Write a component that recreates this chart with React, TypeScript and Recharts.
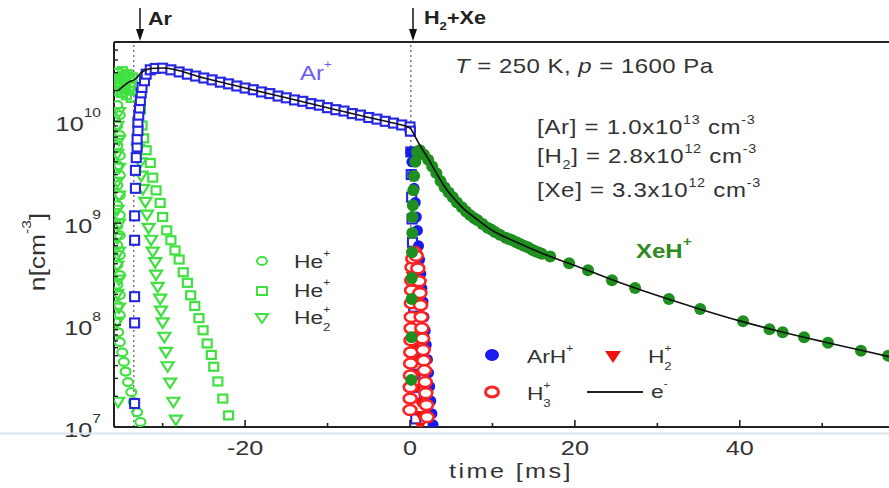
import React from "react";
import { ReferenceLine, Scatter, ScatterChart, XAxis, YAxis } from "recharts";

// ---- data (t in ms, n in cm^-3) ----
const arT = [-33.4, -33.4, -33.4, -33.4, -33.4, -33.3, -33.3, -33.2, -33.1, -33.1, -33.0, -33.0, -32.9, -32.8, -32.7, -32.6, -32.5, -32.2, -32.0, -31.5, -30.9,
  -30, -29, -28, -27, -26, -25, -24, -23, -22, -21, -20, -19, -18, -17, -16, -15, -14, -13, -12, -11, -10, -9, -8, -7, -6, -5, -4, -3, -2, -1, 0,
  0.05, 0.1, 0.15, 0.2, 0.25, 0.3, 0.35, 0.4, 0.45, 0.5, 0.55, 0.6, 0.65, 0.7];
const arN = [1.7e7, 1.05e8, 1.9e8, 6.8e8, 1.18e9, 2.2e9, 3.3e9, 4.4e9, 5.6e9, 6.7e9, 8.1e9, 9.8e9, 1.15e10, 1.35e10, 1.6e10, 1.9e10, 2.15e10, 2.5e10, 2.9e10, 3.2e10, 3.3e10,
  3.32e10, 3.2e10, 3.05e10, 2.9e10, 2.78e10, 2.66e10, 2.55e10, 2.42e10, 2.33e10, 2.22e10, 2.12e10, 2.04e10, 1.94e10, 1.87e10, 1.77e10, 1.7e10, 1.62e10, 1.57e10, 1.49e10, 1.44e10, 1.36e10, 1.3e10, 1.26e10, 1.19e10, 1.15e10, 1.09e10, 1.05e10, 1.0e10, 9.6e9, 9.2e9, 8.8e9,
  8e9, 5e9, 3e9, 1.8e9, 1.1e9, 6.5e8, 4e8, 2.4e8, 1.5e8, 9e7, 5.5e7, 3.3e7, 2e7, 1.2e7];

// He+ (circles)
const heAT = [-35.5, -35.2, -35.5, -35.2, -35.5, -35.2, -35.5, -35.2, -35.5, -35.2, -35.5, -35.2, -35.5, -35.2, -35.5, -35.2, -35.5, -35.2, -35.5, -35.2, -35.5, -35.2,
  -35.7, -35.4, -35.2, -34.9, -34.7, -34.5, -34.2, -33.8, -33.5, -33.1, -32.7];
const heAN = [1.44e10, 1.15e10, 9.1e9, 7.3e9, 5.8e9, 4.6e9, 3.7e9, 2.96e9, 2.36e9, 1.88e9, 1.5e9, 1.2e9, 9.5e8, 7.6e8, 6.1e8, 4.85e8, 3.9e8, 3.1e8, 2.5e8, 1.97e8, 1.57e8, 1.25e8,
  1.07e8, 8.5e7, 6.8e7, 5.4e7, 4.35e7, 3.5e7, 2.76e7, 2.2e7, 1.76e7, 1.4e7, 1.12e7];

// He+ (squares)
const heBT = [-35.8, -35.5, -35.2, -34.9, -34.6, -34.3, -34.0, -33.7, -35.6, -35.3, -35.0, -34.7, -34.4, -34.1, -33.8, -35.7, -35.1, -34.5, -33.9,
  -32.7, -32.5, -32.3, -32.0, -31.5, -31.2, -30.8, -30.3, -30.0, -29.5, -29.0, -28.5, -28.0, -27.5, -27.0, -26.6, -26.1, -25.6, -25.1, -24.6, -24.1, -23.8, -23.3, -22.7, -22.0];
const heBN = [2.6e10, 3.0e10, 2.7e10, 3.1e10, 2.8e10, 2.9e10, 2.6e10, 2.7e10, 2.0e10, 2.2e10, 1.9e10, 2.1e10, 1.8e10, 2.0e10, 1.7e10, 2.35e10, 2.4e10, 2.3e10, 2.2e10,
  1.3e10, 9.1e9, 6.8e9, 5.2e9, 3.9e9, 2.8e9, 2.1e9, 1.58e9, 1.15e9, 8.5e8, 6.8e8, 5.4e8, 4.4e8, 3.3e8, 2.6e8, 1.96e8, 1.54e8, 1.17e8, 8.9e7, 6.6e7, 5.1e7, 3.9e7, 2.8e7, 1.9e7, 1.3e7];

// He2+ (triangles)
const heCT = [-35.3, -35.5, -35.3, -35.5, -35.3, -35.5, -35.3, -35.5, -35.3, -35.5, -35.3, -35.5, -35.3, -35.5, -35.3, -35.5, -35.4,
  -33.0, -32.7, -32.6, -32.4, -32.1, -31.9, -31.7, -31.4, -31.2, -30.9, -30.8, -30.6, -30.3, -30.2, -30.0, -29.8, -29.6, -29.4, -29.1, -28.7, -28.4];
const heCN = [1.22e10, 8.9e9, 6.5e9, 4.75e9, 3.46e9, 2.52e9, 1.84e9, 1.34e9, 9.8e8, 7.1e8, 5.2e8, 3.8e8, 2.76e8, 2.0e8, 1.47e8, 1.07e8, 1.75e7,
  5.3e9, 3.9e9, 2.9e9, 2.15e9, 1.6e9, 1.2e9, 8.9e8, 6.8e8, 5.2e8, 4.1e8, 3.1e8, 2.35e8, 1.8e8, 1.37e8, 1.05e8, 7.6e7, 5.4e7, 3.9e7, 2.7e7, 1.75e7, 1.17e7];

// XeH+
const xeT = [0.15, 0.18, 0.2, 0.22, 0.25, 0.28, 0.3, 0.35, 0.4, 0.5, 0.65, 0.85,
  1.2, 1.7, 2.2, 2.7, 3.2, 3.7, 4.2, 4.7, 5.2, 5.7, 6.3, 6.8, 7.3, 7.8, 8.2, 8.8, 9.4, 9.9, 10.3, 10.9, 11.6, 12.0, 12.4, 12.9, 13.3, 13.8, 14.3, 14.8, 15.2, 15.6, 16.0, 17.0,
  19.3, 21.6, 24.5, 27.3, 31.4, 35.2, 40.4, 43.6, 45.2, 47.8, 50.7, 54.7, 58.0];
const xeN = [2.9e7, 7.6e7, 1.8e8, 2.9e8, 5.2e8, 8e8, 1.15e9, 1.5e9, 2.1e9, 2.9e9, 4e9, 5e9,
  5.2e9, 4.7e9, 4.2e9, 3.6e9, 3.1e9, 2.6e9, 2.25e9, 2.0e9, 1.8e9, 1.6e9, 1.43e9, 1.3e9, 1.2e9, 1.12e9, 1.07e9, 9.8e8, 9.0e8, 8.6e8, 8.2e8, 7.7e8, 7.2e8, 7.0e8, 6.8e8, 6.5e8, 6.3e8, 6.0e8, 5.8e8, 5.5e8, 5.3e8, 5.15e8, 5.0e8, 4.7e8,
  4.05e8, 3.46e8, 2.76e8, 2.31e8, 1.8e8, 1.44e8, 1.09e8, 9.1e7, 8.5e7, 7.6e7, 6.7e7, 5.6e7, 5.0e7];

// ArH+
const ahT = [0.1, 0.23, 0.37, 0.5, 0.64, 0.77, 0.9, 1.04, 1.17, 1.31, 1.44, 1.58, 1.71, 1.85, 1.98, 2.12, 2.25, 2.39, 2.52, 2.66, 2.8];
const ahN = [5e9, 4e9, 3e9, 2.2e9, 1.6e9, 1.15e9, 8.5e8, 6e8, 4.4e8, 3.2e8, 2.3e8, 1.7e8, 1.2e8, 8.8e7, 6.4e7, 4.6e7, 3.4e7, 2.5e7, 1.8e7, 1.35e7, 1.05e7];

// H2+
const h2T = [0.05, 0.15, 0.25, 0.35, 0.45, 0.55, 0.65, 0.75, 0.85, 0.95, 1.05, 1.15, 1.25];
const h2N = [4e8, 3e8, 2.2e8, 1.6e8, 1.15e8, 8.5e7, 6.2e7, 4.5e7, 3.3e7, 2.4e7, 1.75e7, 1.3e7, 1e7];

// H3+
const h3T = [0.0, 0.02, 0.04, 0.06, 0.08, 0.1, 0.12, 0.14, 0.16, 0.18, 0.2, 0.22, 0.25,
  0.35, 0.55, 0.75, 0.95, 1.1,
  1.2, 1.28, 1.36, 1.44, 1.52, 1.6, 1.68, 1.76, 1.84, 1.92, 2.0, 2.08];
const h3N = [1.47e7, 1.9e7, 2.46e7, 3.2e7, 4.2e7, 5.4e7, 7.1e7, 9.3e7, 1.2e8, 1.64e8, 2.2e8, 2.75e8, 3.7e8,
  4.5e8, 5.2e8, 4.8e8, 3.6e8, 2.7e8,
  2.06e8, 1.57e8, 1.2e8, 9.3e7, 7.4e7, 5.7e7, 4.5e7, 3.6e7, 2.76e7, 2.15e7, 1.64e7, 1.25e7];

// electrons (line)
const elT = [-35.4, -34.8, -34.2, -33.3, -32.6, -31.4, -30, -25, -20, -15, -10, -5, -2, 0, 0.5, 1.0, 1.5, 2.2, 3.2, 4.2,
  5.2, 6.3, 8.2, 10.3, 12.4, 14.3, 17, 20, 25, 30, 35, 40, 45, 50, 55, 58.1];
const elN = [2.0e10, 2.2e10, 2.4e10, 2.6e10, 3.0e10, 3.3e10, 3.33e10, 2.66e10, 2.12e10, 1.7e10, 1.36e10, 1.09e10, 9.6e9, 8.6e9, 7.4e9, 6.2e9, 5.3e9, 4.3e9, 3.1e9, 2.28e9,
  1.8e9, 1.44e9, 1.08e9, 8.2e8, 6.8e8, 5.8e8, 4.7e8, 3.85e8, 2.7e8, 1.95e8, 1.45e8, 1.1e8, 8.6e7, 6.9e7, 5.6e7, 4.9e7];

const xTicks = [-30, -20, -10, 0, 10, 20, 30, 40, 50];
const xMajor = [-20, 0, 20, 40];
const yTicks = [1e7, 2e7, 3e7, 4e7, 5e7, 6e7, 7e7, 8e7, 9e7,
  1e8, 2e8, 3e8, 4e8, 5e8, 6e8, 7e8, 8e8, 9e8,
  1e9, 2e9, 3e9, 4e9, 5e9, 6e9, 7e9, 8e9, 9e9,
  1e10, 2e10, 3e10, 4e10, 5e10];
const yMajor = [1e7, 1e8, 1e9, 1e10];

const zip = (t: number[], n: number[]) => t.map((v, i) => ({ t: v, n: n[i] }));

const AX = "#222";
const TXT = "#333";
const FONT = '"Liberation Sans", Arial, sans-serif';
const HE = "#40e040";

function Txt({ x, y, size = 20, weight, fill = TXT, anchor = "start", ls, children }: any) {
  return (
    <g transform={`translate(${x} ${y}) scale(1.2 1)`}>
      <text x={0} y={0} fontSize={size} fontWeight={weight} fill={fill} textAnchor={anchor} letterSpacing={ls}>
        {children}
      </text>
    </g>
  );
}

function BottomTick({ x, y, payload }: any) {
  const v = payload.value as number;
  const major = xMajor.includes(v);
  return (
    <g>
      <line x1={x} x2={x} y1={y} y2={y - (major ? 7 : 4)} stroke={AX} strokeWidth={1.6} />
      {major && <Txt x={x} y={y + 28} size={21} anchor="middle">{String(v)}</Txt>}
    </g>
  );
}

function TopTick({ x, y, payload }: any) {
  const major = xMajor.includes(payload.value);
  return <line x1={x} x2={x} y1={y} y2={y + (major ? 7 : 4)} stroke={AX} strokeWidth={1.6} />;
}

function LeftTick({ x, y, payload }: any) {
  const v = payload.value as number;
  const major = yMajor.includes(v);
  const exp = Math.round(Math.log10(v));
  return (
    <g>
      <line x1={x} x2={x + (major ? 7 : 4)} y1={y} y2={y} stroke={AX} strokeWidth={1.4} />
      {major && (
        <Txt x={x - 13} y={y + 10} size={21} anchor="end">
          10<tspan dy={-14} fontSize={13}>{exp}</tspan>
        </Txt>
      )}
    </g>
  );
}

const arSquare = (p: any) =>
  <rect x={p.cx - 4.5} y={p.cy - 4.5} width={9} height={9} fill="#fff" stroke="#2626e2" strokeWidth={2.1} />;
const openCircle = (p: any) => <ellipse cx={p.cx} cy={p.cy} rx={5} ry={4} fill="none" stroke={HE} strokeWidth={2.2} />;
const heSquare = (p: any) => <rect x={p.cx - 4.5} y={p.cy - 4} width={9} height={8} fill="none" stroke={HE} strokeWidth={2.2} />;
const heTri = (p: any) => (
  <polygon points={`${p.cx - 6},${p.cy - 4.5} ${p.cx + 6},${p.cy - 4.5} ${p.cx},${p.cy + 5}`} fill="none" stroke={HE} strokeWidth={2.2} />
);
const dot = (fill: string, r: number) => (p: any) => <circle cx={p.cx} cy={p.cy} r={r} fill={fill} />;
const redTri = (p: any) => (
  <polygon points={`${p.cx - 5.5},${p.cy - 4.5} ${p.cx + 5.5},${p.cy - 4.5} ${p.cx},${p.cy + 5}`} fill="#ee1111" />
);
const redRing = (p: any) => <ellipse cx={p.cx} cy={p.cy} rx={6.5} ry={5} fill="#fff" stroke="#ff2222" strokeWidth={2.6} />;

function Arrow({ x }: { x: number }) {
  return (
    <g>
      <line x1={x} x2={x} y1={8} y2={31} stroke="#111" strokeWidth={1.5} />
      <polygon points={`${x - 4},${29} ${x + 4},${29} ${x},${41}`} fill="#111" />
    </g>
  );
}

export default function App() {
  return (
    <div style={{ position: "absolute", left: 0, top: 0, width: 889, height: 488, overflow: "hidden", background: "#fff", fontFamily: FONT }}>
      <ScatterChart width={900} height={488} margin={{ top: 12, right: 11, bottom: 1, left: 54 }}>
        <XAxis dataKey="t" type="number" domain={[-35.9, 58.1]} allowDataOverflow ticks={xTicks} interval={0}
          height={60} tickSize={0} tickMargin={0} tickLine={false} axisLine={{ stroke: AX, strokeWidth: 2 }}
          tick={(p: any) => <BottomTick {...p} />} />
        <XAxis xAxisId="top" orientation="top" type="number" domain={[-35.9, 58.1]} allowDataOverflow ticks={xTicks} interval={0}
          height={30} tickSize={0} tickMargin={0} tickLine={false} axisLine={{ stroke: AX, strokeWidth: 2 }}
          tick={(p: any) => <TopTick {...p} />} />
        <YAxis dataKey="n" type="number" scale="log" domain={[1e7, 6e10]} allowDataOverflow ticks={yTicks} interval={0}
          width={60} tickSize={0} tickMargin={0} tickLine={false} axisLine={{ stroke: AX, strokeWidth: 2 }}
          tick={(p: any) => <LeftTick {...p} />} />
        <ReferenceLine x={-33.5} stroke="#666" strokeDasharray="2 3" strokeWidth={1.3} />
        <ReferenceLine x={0.1} stroke="#666" strokeDasharray="2 3" strokeWidth={1.3} />
        <Scatter data={zip(heAT, heAN)} shape={openCircle} isAnimationActive={false} />
        <Scatter data={zip(heBT, heBN)} shape={heSquare} isAnimationActive={false} />
        <Scatter data={zip(heCT, heCN)} shape={heTri} isAnimationActive={false} />
        <Scatter data={zip(arT, arN)} shape={arSquare} isAnimationActive={false} />
        <Scatter data={zip(ahT, ahN)} shape={dot("#1a1aee", 5.5)} isAnimationActive={false} />
        <Scatter data={zip(h2T, h2N)} shape={redTri} isAnimationActive={false} />
        <Scatter data={zip(h3T, h3N)} shape={redRing} isAnimationActive={false} />
        <Scatter data={zip(xeT, xeN)} shape={dot("#1f8f1f", 6)} isAnimationActive={false} />
        <Scatter data={zip(elT, elN)} shape={() => <g />} line={{ stroke: "#111", strokeWidth: 1.6 }}
          lineType="joint" lineJointType="monotoneX" isAnimationActive={false} />
      </ScatterChart>

      <svg width={889} height={488} style={{ position: "absolute", left: 0, top: 0, pointerEvents: "none" }} fontFamily={FONT}>
        <line x1={0} x2={889} y1={433.5} y2={433.5} stroke="#dde5ee" strokeWidth={2} />
        <Arrow x={140} />
        <Arrow x={413} />
        <Txt x={148} y={25} size={18} weight="bold" fill="#222">Ar</Txt>
        <Txt x={424} y={24} size={18} weight="bold" fill="#222">
          H<tspan dy={6} fontSize={11}>2</tspan><tspan dy={-6}>+Xe</tspan>
        </Txt>

        <Txt x={455} y={73} size={20} ls={0.4}>
          <tspan fontStyle="italic">T</tspan>{" = 250 K, "}<tspan fontStyle="italic">p</tspan>{" = 1600 Pa"}
        </Txt>
        <Txt x={537} y={134} size={20} ls={0.6}>
          [Ar] = 1.0x10<tspan dy={-10} fontSize={12}>13</tspan><tspan dy={10}>{" cm"}</tspan><tspan dy={-10} fontSize={12}>-3</tspan>
        </Txt>
        <Txt x={537} y={163} size={20} ls={0.6}>
          [H<tspan dy={6} fontSize={12}>2</tspan><tspan dy={-6}>] = 2.8x10</tspan><tspan dy={-10} fontSize={12}>12</tspan><tspan dy={10}>{" cm"}</tspan><tspan dy={-10} fontSize={12}>-3</tspan>
        </Txt>
        <Txt x={537} y={197} size={20} ls={0.6}>
          [Xe] = 3.3x10<tspan dy={-10} fontSize={12}>12</tspan><tspan dy={10}>{" cm"}</tspan><tspan dy={-10} fontSize={12}>-3</tspan>
        </Txt>

        <Txt x={300} y={80} size={20} fill="#6a5cf2">
          Ar<tspan dy={-12} fontSize={11}>+</tspan>
        </Txt>
        <Txt x={636} y={258} size={20} weight="bold" fill="#2e8b22">
          XeH<tspan dy={-12} fontSize={13}>+</tspan>
        </Txt>

        {/* He legend */}
        <ellipse cx={262} cy={261} rx={5} ry={4} fill="none" stroke={HE} strokeWidth={2} />
        <rect x={257} y={287} width={10} height={8} fill="none" stroke={HE} strokeWidth={2} />
        <polygon points="256,314 268,314 262,323" fill="none" stroke={HE} strokeWidth={2} />
        <Txt x={294} y={268} size={19}>He<tspan dy={-11} fontSize={10}>+</tspan></Txt>
        <Txt x={294} y={297} size={19}>He<tspan dy={-11} fontSize={10}>+</tspan></Txt>
        <Txt x={294} y={324} size={19}>
          He<tspan dy={-11} fontSize={10}>+</tspan><tspan dx={-6} dy={18} fontSize={11}>2</tspan>
        </Txt>

        {/* second legend */}
        <ellipse cx={492} cy={355} rx={7} ry={6} fill="#1a1aee" />
        <Txt x={527} y={363} size={19}>ArH<tspan dy={-11} fontSize={10}>+</tspan></Txt>
        <polygon points="605,351 621,351 613,363" fill="#ee1111" />
        <Txt x={648} y={363} size={19}>
          H<tspan dy={-11} fontSize={10}>+</tspan><tspan dx={-6} dy={18} fontSize={11}>2</tspan>
        </Txt>
        <ellipse cx={492} cy={392} rx={6.5} ry={5} fill="none" stroke="#ff2222" strokeWidth={3} />
        <Txt x={527} y={400} size={19}>
          H<tspan dy={-11} fontSize={10}>+</tspan><tspan dx={-6} dy={18} fontSize={11}>3</tspan>
        </Txt>
        <line x1={587} x2={643} y1={392} y2={392} stroke="#222" strokeWidth={2} />
        <Txt x={651} y={398} size={19}>e<tspan dy={-11} fontSize={10}>-</tspan></Txt>

        {/* axis titles */}
        <Txt x={511} y={478} size={21} anchor="middle" ls={2}>time [ms]</Txt>
        <g transform="translate(45 252) rotate(-90) scale(1.2 1)">
          <text x={0} y={0} fontSize={22} fill={TXT} textAnchor="middle">
            n[cm<tspan dy={-14} fontSize={13}>-3</tspan><tspan dy={14}>]</tspan>
          </text>
        </g>
      </svg>
    </div>
  );
}
